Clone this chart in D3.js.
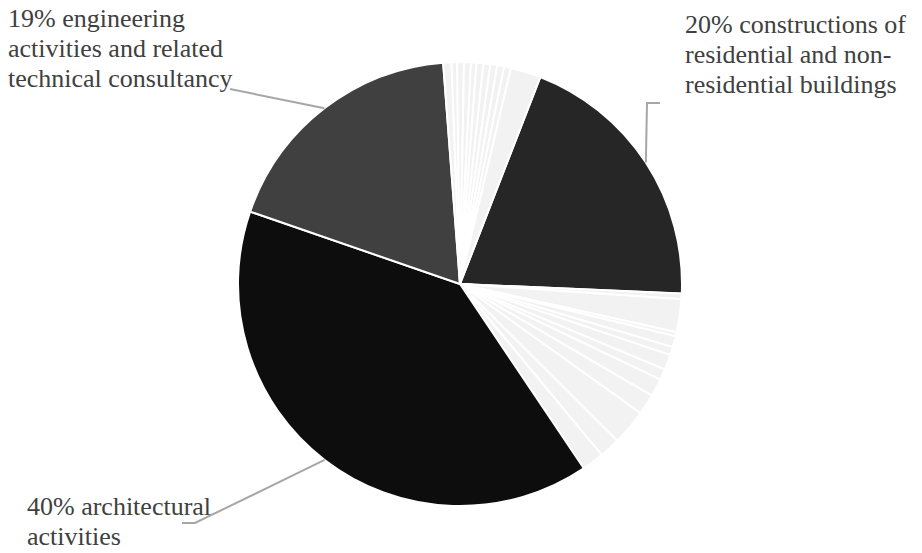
<!DOCTYPE html>
<html>
<head>
<meta charset="utf-8">
<script src="https://cdn.jsdelivr.net/npm/d3@7"></script>
<style>
  body { margin: 0; background: #fff; }
</style>
</head>
<body>
<div id="chart"></div>
<script>
// slices clockwise, starting at the 20% construction slice
var categories = ["constructions of residential and non-residential buildings",
  "r1", "r2", "r3", "r4", "r5", "r6", "r7", "r8", "r9", "r10", "r11", "r12",
  "architectural activities",
  "engineering activities and related technical consultancy",
  "t1", "t2", "t3", "t4", "t5", "t6", "t7", "t8", "t9", "t10", "t11"];
var values = [19.8,
  0.4, 2.4, 0.3, 0.8, 0.6, 1.1, 0.8, 1.3, 1.5, 2.6, 1.5, 1.6,
  39.7,
  18.5,
  0.6, 0.4, 0.5, 0.5, 0.4, 0.5, 0.5, 0.5, 0.5, 0.5, 2.2];
var fills = ["#262626",
  "#f2f2f2", "#f2f2f2", "#f2f2f2", "#f2f2f2", "#f2f2f2", "#f2f2f2", "#f2f2f2", "#f2f2f2", "#f2f2f2", "#f2f2f2", "#f2f2f2", "#f2f2f2",
  "#0d0d0d",
  "#404040",
  "#f2f2f2", "#f2f2f2", "#f2f2f2", "#f2f2f2", "#f2f2f2", "#f2f2f2", "#f2f2f2", "#f2f2f2", "#f2f2f2", "#f2f2f2", "#f2f2f2"];

// labelled slices
var labelIdx = [0, 13, 14];
var labelLines = [
  ["20% constructions of", "residential and non-", "residential buildings"],
  ["40% architectural", "activities"],
  ["19% engineering", "activities and related", "technical consultancy"]
];

var width = 922, height = 553,
    cx = 460, cy = 284, r = 222;

var svg = d3.select("#chart").append("svg")
  .attr("width", width)
  .attr("height", height);

var g = svg.append("g").attr("transform", "translate(" + cx + "," + cy + ")");

var start = 21.2 * Math.PI / 180;
var pie = d3.pie().sort(null).startAngle(start).endAngle(start + 2 * Math.PI);
var arcs = pie(values);
var arc = d3.arc().innerRadius(0).outerRadius(r);

g.selectAll("path.slice")
  .data(arcs)
  .enter()
  .append("path")
    .attr("class", "slice")
    .attr("d", arc)
    .attr("fill", (d, i) => fills[i])
    .attr("stroke", "#fff")
    .attr("stroke-width", 2);

// label placement: text anchor, elbow and leader end
var labelPos = [
  {x: 685, y: 33, elbow: [647, 103], end: [660, 103]},
  {x: 27, y: 515, elbow: [195, 523], end: [182, 523]},
  {x: 8, y: 27, elbow: [230, 89], end: null}
];

labelIdx.forEach(function(idx, k) {
  var a = arcs[idx];
  var mid = (a.startAngle + a.endAngle) / 2;
  var px = cx + r * Math.sin(mid), py = cy - r * Math.cos(mid);
  var p = labelPos[k];
  var pts = [[px, py], p.elbow];
  if (p.end) pts.push(p.end);
  svg.append("path")
    .attr("d", d3.line()(pts))
    .attr("fill", "none")
    .attr("stroke", "#a6a6a6")
    .attr("stroke-width", 2);

  var t = svg.append("text")
    .attr("x", p.x)
    .attr("y", p.y)
    .attr("font-family", "'Liberation Serif', 'Times New Roman', 'DejaVu Serif', serif")
    .attr("fill", "#404040")
    .attr("font-size", 26);
  labelLines[k].forEach(function(line, j) {
    t.append("tspan")
      .attr("x", p.x)
      .attr("dy", j == 0 ? 0 : 30)
      .text(line);
  });
});
</script>
</body>
</html>
